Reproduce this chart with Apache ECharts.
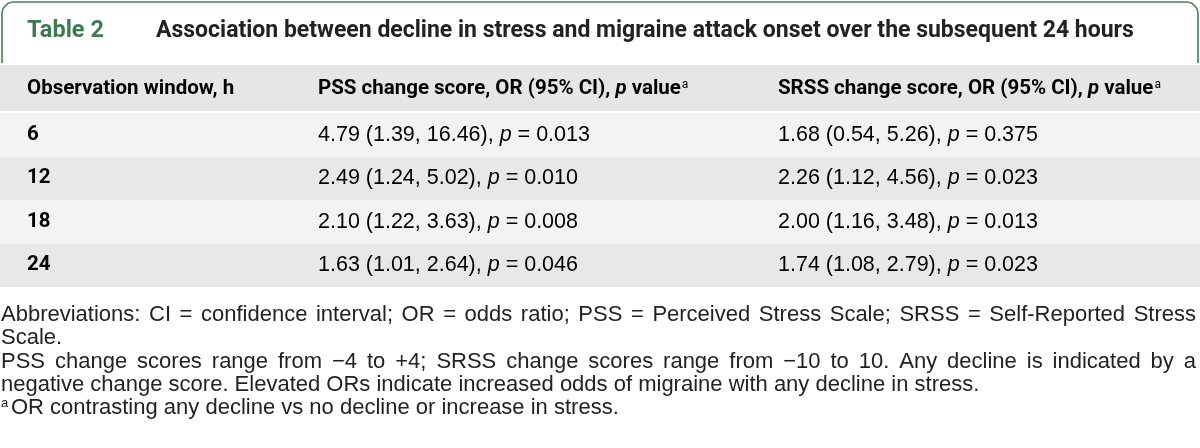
<!DOCTYPE html>
<html><head><meta charset="utf-8">
<script src="https://cdn.jsdelivr.net/npm/echarts@6/dist/echarts.min.js"></script>
<style>html,body{margin:0;padding:0;background:#fff}#c{width:1200px;height:448px}</style>
</head><body><div id="c"></div>
<script>
// ---- data ----
const windows = ['6', '12', '18', '24'];
const pssOR = [4.79, 2.49, 2.10, 1.63];
const pssLow = [1.39, 1.24, 1.22, 1.01];
const pssHigh = [16.46, 5.02, 3.63, 2.64];
const pssP = ['0.013', '0.010', '0.008', '0.046'];
const srssOR = [1.68, 2.26, 2.00, 1.74];
const srssLow = [0.54, 1.12, 1.16, 1.08];
const srssHigh = [5.26, 4.56, 3.48, 2.79];
const srssP = ['0.375', '0.023', '0.013', '0.023'];
const tableLabel = 'Table 2';
const tableTitle = 'Association between decline in stress and migraine attack onset over the subsequent 24 hours';
const headerLabels = ['Observation window, h', 'PSS change score, OR (95% CI), ', 'SRSS change score, OR (95% CI), '];
const footLines = [
  'Abbreviations: CI = confidence interval; OR = odds ratio; PSS = Perceived Stress Scale; SRSS = Self-Reported Stress',
  'Scale.',
  'PSS change scores range from \u22124 to +4; SRSS change scores range from \u221210 to 10. Any decline is indicated by a',
  'negative change score. Elevated ORs indicate increased odds of migraine with any decline in stress.',
  'OR contrasting any decline vs no decline or increase in stress.'
];
const footJustify = [true, false, true, false, false];

// ---- helpers ----
const mctx = document.createElement('canvas').getContext('2d');
function textW(t, font) { mctx.font = font; return mctx.measureText(t).width; }
function fit(t, style, weight, fam, target) {
  return Math.round(2 * 100 * target / textW(t, style + ' ' + weight + ' 100px ' + fam)) / 2;
}
const HFAM = 'Roboto, "Liberation Sans", Arial, sans-serif';
const FAM = '"Liberation Sans", Arial, sans-serif';
const titleSize = fit(tableTitle, 'normal', 'bold', HFAM, 977);
const headSize = fit(headerLabels[0], 'normal', 'bold', HFAM, 206);
const bodySize = fit('4.79 (1.39, 16.46), p = 0.013', 'normal', 'normal', FAM, 271);
const footSize = fit(footLines[3], 'normal', 'normal', FAM, 986);
const footFont = 'normal normal ' + footSize + 'px ' + FAM;

const fmt = v => v.toFixed(2);
function cell(or, lo, hi, p) {
  return '{n|' + fmt(or) + ' (' + fmt(lo) + ', ' + fmt(hi) + '), }{i|p}{n| = ' + p + '}';
}
const ink = '#2b2b2b';
const bodyRich = {
  n: { fontFamily: FAM, fontSize: bodySize, color: ink },
  i: { fontFamily: FAM, fontSize: bodySize, fontStyle: 'italic', color: ink },
  b: { fontFamily: HFAM, fontSize: headSize, fontWeight: 'bold', color: ink }
};
const headRich = {
  h: { fontFamily: HFAM, fontSize: headSize, fontWeight: 'bold', color: ink },
  hi: { fontFamily: HFAM, fontSize: headSize, fontWeight: 'bold', fontStyle: 'italic', color: ink },
  sup: { fontFamily: HFAM, fontSize: Math.round(headSize * 0.6), color: ink, verticalAlign: 'top', padding: [0, 0, 8, 1] }
};

// footnotes graphic elements
const footEls = [];
const footLeft = 1, footRight = 1196, footTop = 315, footStep = 23.3;
footLines.forEach((line, k) => {
  const y = footTop + k * footStep;
  if (footJustify[k]) {
    const words = line.split(' ');
    const ws = words.map(wd => textW(wd, footFont));
    const gap = (footRight - footLeft - ws.reduce((a, b) => a + b, 0)) / (words.length - 1);
    let x = footLeft;
    words.forEach((wd, j) => {
      footEls.push({ type: 'text', x: x, y: y, style: { text: wd, font: footFont, fill: '#222', textVerticalAlign: 'middle' } });
      x += ws[j] + gap;
    });
  } else if (k === 4) {
    footEls.push({ type: 'text', x: footLeft, y: y - 5, style: { text: 'a', font: 'normal normal ' + Math.round(footSize * 0.6) + 'px ' + FAM, fill: '#222', textVerticalAlign: 'middle' } });
    footEls.push({ type: 'text', x: footLeft + 10, y: y, style: { text: line, font: footFont, fill: '#222', textVerticalAlign: 'middle' } });
  } else {
    footEls.push({ type: 'text', x: footLeft, y: y, style: { text: line, font: footFont, fill: '#222', textVerticalAlign: 'middle' } });
  }
});

const green = '#4a7d58';
const frameStyle = { fill: null, stroke: green, lineWidth: 1.6 };
const colX = [27, 318, 778];
const chart = echarts.init(document.getElementById('c'), null, { renderer: 'canvas' });
chart.setOption({
  animation: false,
  backgroundColor: '#fff',
  grid: { left: 0, right: 0, top: 113, bottom: 161 },
  xAxis: { type: 'value', min: 0, max: 1200, show: false },
  yAxis: { type: 'category', data: windows, inverse: true, show: false },
  graphic: [
    { type: 'polyline', shape: { points: [[2, 63], [2, 14]] }, style: frameStyle },
    { type: 'arc', shape: { cx: 14, cy: 14, r: 12, startAngle: Math.PI, endAngle: Math.PI * 1.5 }, style: frameStyle },
    { type: 'polyline', shape: { points: [[14, 2], [1186, 2]] }, style: frameStyle },
    { type: 'arc', shape: { cx: 1186, cy: 14, r: 12, startAngle: Math.PI * 1.5, endAngle: Math.PI * 2 }, style: frameStyle },
    { type: 'polyline', shape: { points: [[1198, 14], [1198, 63]] }, style: frameStyle },
    { type: 'text', x: 27, y: 31, style: { text: tableLabel, font: 'normal bold ' + (titleSize + 0.5) + 'px ' + HFAM, fill: '#3d7a4f', textVerticalAlign: 'middle' } },
    { type: 'text', x: 156, y: 31, style: { text: tableTitle, font: 'normal bold ' + titleSize + 'px ' + HFAM, fill: '#222', textVerticalAlign: 'middle' } },
    { type: 'rect', shape: { x: 0, y: 65, width: 1200, height: 46 }, style: { fill: '#e6e6e6' } },
    { type: 'text', x: colX[0], y: 89, style: { text: '{h|' + headerLabels[0] + '}', rich: headRich, textVerticalAlign: 'middle' } },
    { type: 'text', x: colX[1], y: 89, style: { text: '{h|' + headerLabels[1] + '}{hi|p}{h| value}{sup|a}', rich: headRich, textVerticalAlign: 'middle' } },
    { type: 'text', x: colX[2], y: 89, style: { text: '{h|' + headerLabels[2] + '}{hi|p}{h| value}{sup|a}', rich: headRich, textVerticalAlign: 'middle' } }
  ].concat(footEls),
  series: [{
    type: 'custom',
    coordinateSystem: 'cartesian2d',
    encode: { x: 0, y: 1 },
    data: windows.map((w, i) => [0, i]),
    renderItem: function (params, api) {
      const i = api.value(1);
      const c = api.coord([0, i]);
      const band = api.size([0, 1])[1];
      const cs = params.coordSys;
      const top = c[1] - band / 2;
      return {
        type: 'group',
        children: [
          { type: 'rect', shape: { x: cs.x, y: top, width: cs.width, height: band }, style: { fill: i % 2 === 0 ? '#f3f3f3' : '#e8e8e8' } },
          { type: 'text', x: cs.x + colX[0], y: c[1], style: { text: '{b|' + windows[i] + '}', rich: bodyRich, textVerticalAlign: 'middle' } },
          { type: 'text', x: cs.x + colX[1], y: c[1], style: { text: cell(pssOR[i], pssLow[i], pssHigh[i], pssP[i]), rich: bodyRich, textVerticalAlign: 'middle' } },
          { type: 'text', x: cs.x + colX[2], y: c[1], style: { text: cell(srssOR[i], srssLow[i], srssHigh[i], srssP[i]), rich: bodyRich, textVerticalAlign: 'middle' } }
        ]
      };
    }
  }]
});
</script></body></html>
